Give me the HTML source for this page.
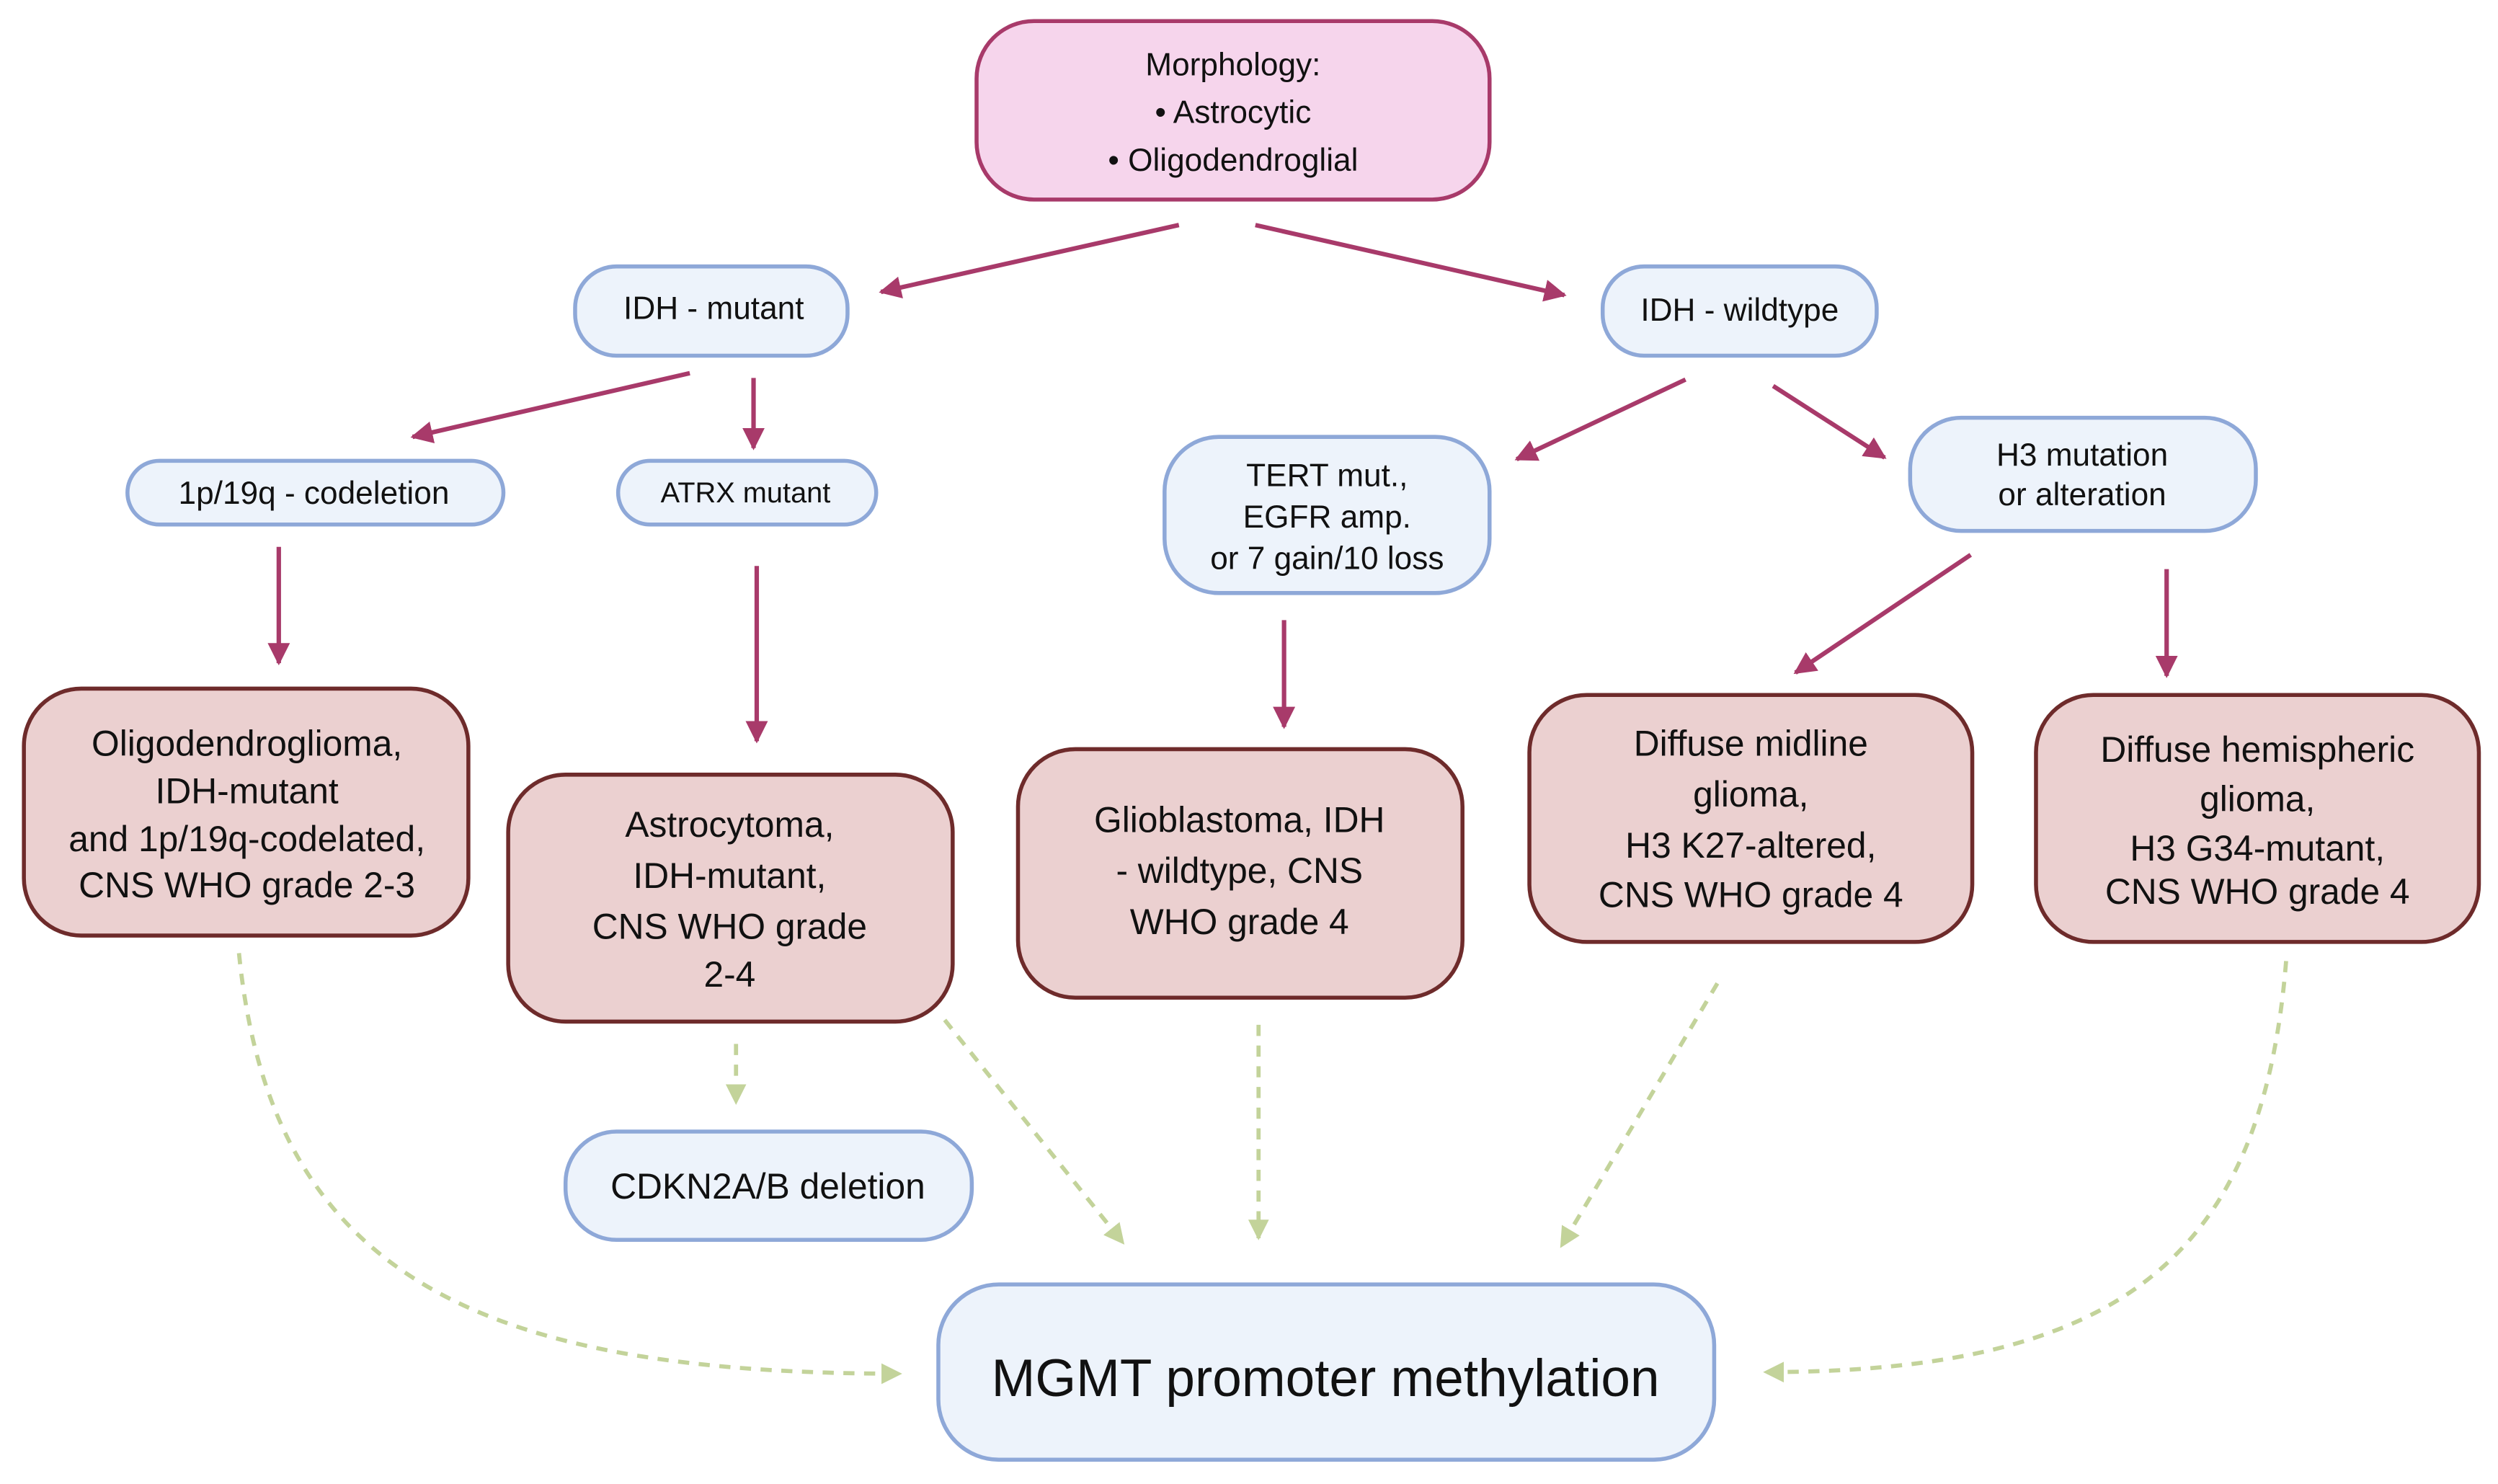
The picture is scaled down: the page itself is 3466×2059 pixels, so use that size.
<!DOCTYPE html>
<html><head><meta charset="utf-8"><style>
html,body{margin:0;padding:0;background:#fff;}
svg{display:block;}
text{font-family:"Liberation Sans",sans-serif;fill:#111;text-anchor:middle;}
</style></head><body>
<svg width="3466" height="2059" viewBox="0 0 1568 931" xmlns="http://www.w3.org/2000/svg">
<defs>
<marker id="m" viewBox="0 0 10 10" refX="9" refY="5" markerWidth="5" markerHeight="5" orient="auto" markerUnits="strokeWidth"><path d="M0,0 L10,5 L0,10 z" fill="#a83a6a"/></marker>
<marker id="g" viewBox="0 0 10 10" refX="9" refY="5" markerWidth="5" markerHeight="5" orient="auto" markerUnits="strokeWidth"><path d="M0,0 L10,5 L0,10 z" fill="#c3d39a"/></marker>
</defs>
<g stroke="#a83a6a" stroke-width="2.8" fill="none" marker-end="url(#m)">
<line x1="740" y1="141" x2="553" y2="183"/>
<line x1="788" y1="141" x2="982" y2="185"/>
<line x1="433" y1="234" x2="259" y2="274"/>
<line x1="473" y1="237" x2="473" y2="281"/>
<line x1="1058" y1="238" x2="952" y2="288"/>
<line x1="1113" y1="242" x2="1183" y2="287"/>
<line x1="175" y1="343" x2="175" y2="416"/>
<line x1="475" y1="355" x2="475" y2="465"/>
<line x1="806" y1="389" x2="806" y2="456"/>
<line x1="1237" y1="348" x2="1127" y2="422"/>
<line x1="1360" y1="357" x2="1360" y2="424"/>
</g>
<g stroke="#c3d39a" stroke-width="2.6" fill="none" stroke-dasharray="7,6" marker-end="url(#g)">
<path d="M150,598 C170,800 300,862 565,862"/>
<line x1="462" y1="655" x2="462" y2="692"/>
<line x1="593" y1="640" x2="705" y2="780"/>
<line x1="790" y1="643" x2="790" y2="777"/>
<line x1="1078" y1="617" x2="980" y2="782"/>
<path d="M1435,603 C1420,790 1330,861 1108,861"/>
</g>
<g stroke-width="2.5">
<rect x="613" y="13" width="322" height="112" rx="36" fill="#f6d5ec" stroke="#a83a6a"/>
<g fill="#edf3fb" stroke="#8ea8d8">
<rect x="361" y="167" width="171" height="56" rx="26"/>
<rect x="1006" y="167" width="172" height="56" rx="26"/>
<rect x="80" y="289" width="236" height="40" rx="20"/>
<rect x="388" y="289" width="162" height="40" rx="20"/>
<rect x="731" y="274" width="204" height="98" rx="34"/>
<rect x="1199" y="262" width="217" height="71" rx="32"/>
<rect x="355" y="710" width="255" height="68" rx="32"/>
<rect x="589" y="806" width="487" height="110" rx="38"/>
</g>
<g fill="#ebd0d0" stroke="#6e2b2b">
<rect x="15" y="432" width="279" height="155" rx="36"/>
<rect x="319" y="486" width="279" height="155" rx="36"/>
<rect x="639" y="470" width="279" height="156" rx="36"/>
<rect x="960" y="436" width="278" height="155" rx="36"/>
<rect x="1278" y="436" width="278" height="155" rx="36"/>
</g>
</g>
<g font-size="20">
<text x="774" y="47">Morphology:</text>
<text x="774" y="77">• Astrocytic</text>
<text x="774" y="107">• Oligodendroglial</text>
<text x="448" y="200">IDH - mutant</text>
<text x="1092" y="201">IDH - wildtype</text>
<text x="197" y="316">1p/19q - codeletion</text>
<text x="468" y="315" font-size="18">ATRX mutant</text>
<text x="833" y="305">TERT mut.,</text>
<text x="833" y="331">EGFR amp.</text>
<text x="833" y="357">or 7 gain/10 loss</text>
<text x="1307" y="292">H3 mutation</text>
<text x="1307" y="317">or alteration</text>
</g>
<g font-size="22.5">
<text x="155" y="474">Oligodendroglioma,</text>
<text x="155" y="504">IDH-mutant</text>
<text x="155" y="534">and 1p/19q-codelated,</text>
<text x="155" y="563">CNS WHO grade 2-3</text>
<text x="458" y="525">Astrocytoma,</text>
<text x="458" y="557">IDH-mutant,</text>
<text x="458" y="589">CNS WHO grade</text>
<text x="458" y="619">2-4</text>
<text x="778" y="522">Glioblastoma, IDH</text>
<text x="778" y="554">- wildtype, CNS</text>
<text x="778" y="586">WHO grade 4</text>
<text x="1099" y="474">Diffuse midline</text>
<text x="1099" y="506">glioma,</text>
<text x="1099" y="538">H3 K27-altered,</text>
<text x="1099" y="569">CNS WHO grade 4</text>
<text x="1417" y="478">Diffuse hemispheric</text>
<text x="1417" y="509">glioma,</text>
<text x="1417" y="540">H3 G34-mutant,</text>
<text x="1417" y="567">CNS WHO grade 4</text>
<text x="482" y="752">CDKN2A/B deletion</text>
</g>
<text x="832" y="876" font-size="33">MGMT promoter methylation</text>
</svg>
</body></html>
